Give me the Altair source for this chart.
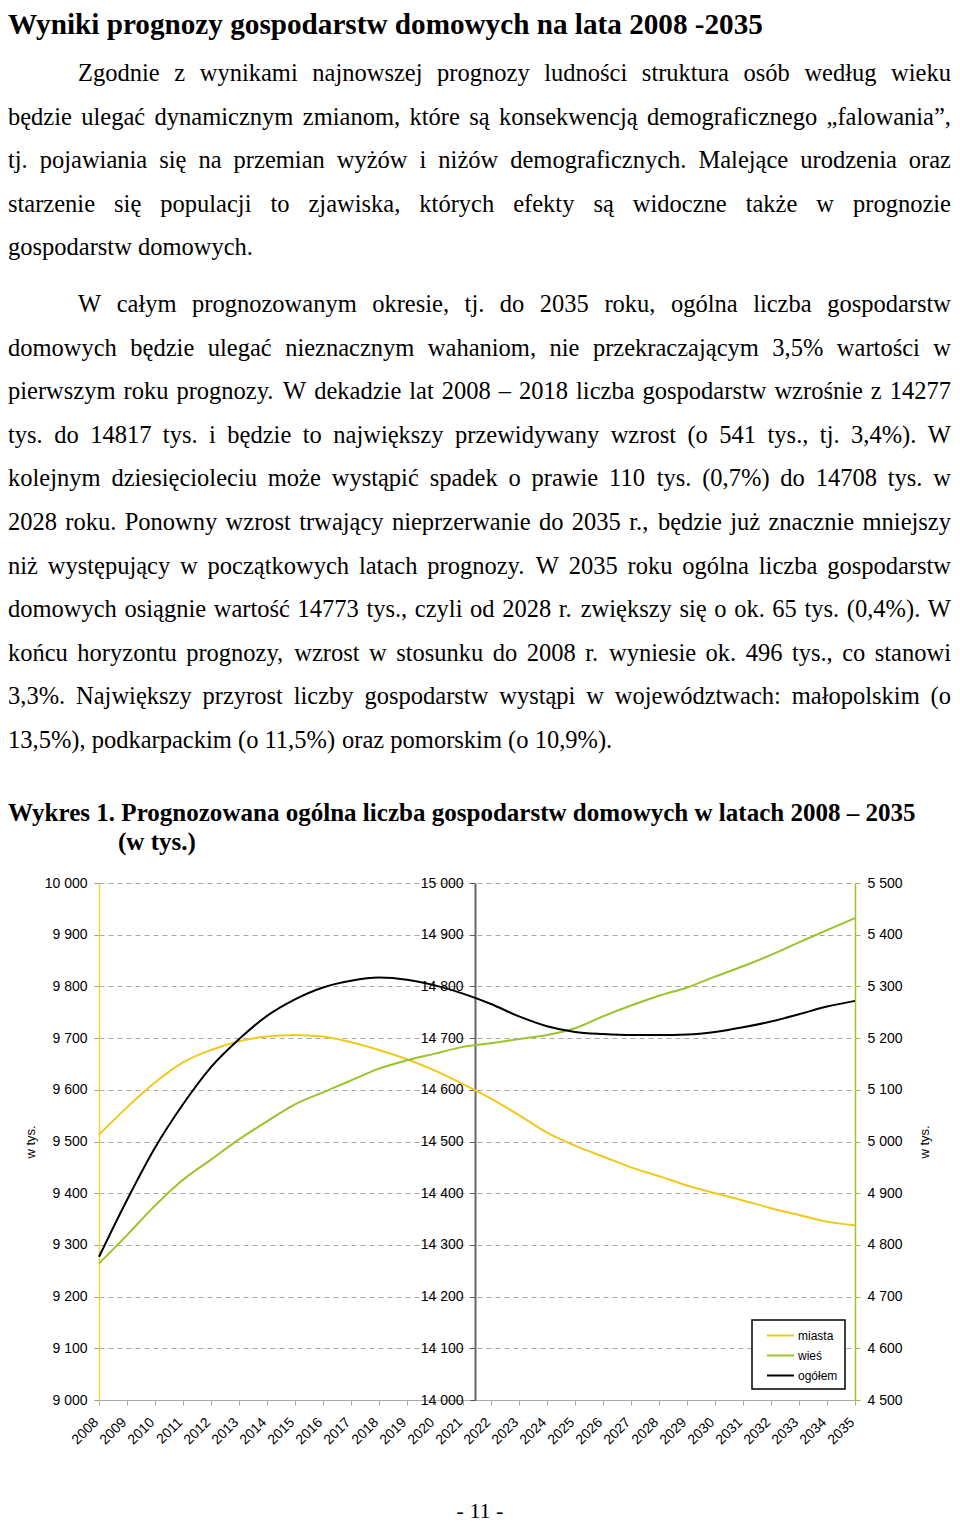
import altair as alt
import pandas as pd

# ---------------- data ----------------
years = list(range(2008, 2036))
miasta = [9513, 9566, 9614, 9653, 9677, 9694, 9703, 9706, 9703, 9692, 9677, 9659, 9637, 9611,
          9583, 9551, 9517, 9492, 9471, 9450, 9433, 9415, 9400, 9386, 9371, 9358, 9345, 9338]
wies = [4764, 4819, 4876, 4926, 4965, 5004, 5039, 5072, 5095, 5118, 5141, 5157, 5170, 5183,
        5190, 5198, 5206, 5219, 5242, 5263, 5282, 5298, 5319, 5339, 5361, 5385, 5409, 5432]
ogolem = [14277, 14387, 14488, 14572, 14644, 14698, 14743, 14775, 14798, 14811, 14817, 14813, 14802, 14786,
          14766, 14742, 14723, 14712, 14708, 14706, 14706, 14707, 14712, 14721, 14732, 14746, 14761, 14772]

series_names = ["miasta", "wieś", "ogółem"]
series_colors = ["#f2c81c", "#9cc22c", "#000000"]

left_ticks = list(range(9000, 10001, 100))
mid_ticks = list(range(14000, 15001, 100))
right_ticks = list(range(4500, 5501, 100))

heading = "Wyniki prognozy gospodarstw domowych na lata 2008 -2035"
paragraph1 = [
    "Zgodnie z wynikami najnowszej prognozy ludności struktura osób według wieku",
    "będzie ulegać dynamicznym zmianom, które są konsekwencją demograficznego „falowania”,",
    "tj. pojawiania się na przemian wyżów i niżów demograficznych. Malejące urodzenia oraz",
    "starzenie się populacji to zjawiska, których efekty są widoczne także w prognozie",
    "gospodarstw domowych.",
]
paragraph2 = [
    "W całym prognozowanym okresie, tj. do 2035 roku, ogólna liczba gospodarstw",
    "domowych będzie ulegać nieznacznym wahaniom, nie przekraczającym 3,5% wartości w",
    "pierwszym roku prognozy. W dekadzie lat 2008 – 2018 liczba gospodarstw wzrośnie z 14277",
    "tys. do 14817 tys. i będzie to największy przewidywany wzrost (o 541 tys., tj. 3,4%). W",
    "kolejnym dziesięcioleciu może wystąpić spadek o prawie 110 tys. (0,7%) do 14708 tys. w",
    "2028 roku. Ponowny wzrost trwający nieprzerwanie do 2035 r., będzie już znacznie mniejszy",
    "niż występujący w początkowych latach prognozy. W 2035 roku ogólna liczba gospodarstw",
    "domowych osiągnie wartość 14773 tys., czyli od 2028 r. zwiększy się o ok. 65 tys. (0,4%). W",
    "końcu horyzontu prognozy, wzrost w stosunku do 2008 r. wyniesie ok. 496 tys., co stanowi",
    "3,3%. Największy przyrost liczby gospodarstw wystąpi w województwach: małopolskim (o",
    "13,5%), podkarpackim (o 11,5%) oraz pomorskim (o 10,9%).",
]
chart_title_1 = "Wykres 1. Prognozowana ogólna liczba gospodarstw domowych w latach 2008 – 2035"
chart_title_2 = "(w tys.)"
page_number = "- 11 -"
unit_label = "w tys."

# ---------------- font metrics (Times / Liberation Serif) ----------------
REG = {}
for w, chars in [(250, " ,."), (278, "ijlt:;ł"), (333, "fr()-I"), (389, "sśJ"),
                 (444, "aceząćęźż„”"), (500, "bdghknopquvxyńó0123456789–"),
                 (556, "FPS"), (611, "ETZLŁ"), (667, "BCR"), (722, "ADGHKNOUVXYw"),
                 (778, "m"), (833, "%"), (889, "M"), (944, "W")]:
    for c in chars:
        REG[c] = w
BOLD = {}
for w, chars in [(250, " ,."), (278, "il:ł"), (333, "ftj()-I"), (389, "s"), (444, "cerz"),
                 (500, "agovxy0123456789–ó"), (556, "bdhknpqu"), (611, "P"), (722, "w"),
                 (833, "m"), (1000, "W")]:
    for c in chars:
        BOLD[c] = w


def units(s, table):
    return sum(table.get(c, 500) for c in s) / 1000.0


X0, Y0 = 99, 883          # page position of the plot origin
PLOT_W, PLOT_H = 756, 517
BODY_LEFT, BODY_RIGHT, INDENT = 8, 951, 78
LINE_STEP = 43.6

lines = []
for pi, (para, base) in enumerate([(paragraph1, 81), (paragraph2, 312)]):
    for i, t in enumerate(para):
        left = INDENT if i == 0 else BODY_LEFT
        lines.append((t, left, i < len(para) - 1, base + i * LINE_STEP))

fs_body = 24.5
for t, left, just, _ in lines:
    if just:
        fs_body = min(fs_body, (BODY_RIGHT - left) / units(t, REG))

rows = []
for t, left, just, yb in lines:
    words = t.split(" ")
    ws = [units(w, REG) * fs_body for w in words]
    if just and len(words) > 1:
        gap = (BODY_RIGHT - left - sum(ws)) / (len(words) - 1)
    else:
        gap = 0.25 * fs_body
    x = left
    for w, wd in zip(words, ws):
        rows.append({"w": w, "x": x - X0, "y": yb - Y0})
        x += wd + gap
words_df = pd.DataFrame(rows)

fs_title = 757 / units(heading, BOLD)
fs_ctitle = 910 / units(chart_title_1, BOLD)
head_df = pd.DataFrame([{"t": heading, "x": 8 - X0, "y": 34 - Y0}])
ctitle_df = pd.DataFrame([{"t": chart_title_1, "x": 8 - X0, "y": 821 - Y0},
                          {"t": chart_title_2, "x": 118 - X0, "y": 850 - Y0}])
foot_df = pd.DataFrame([{"t": page_number, "x": 480 - X0, "y": 1518 - Y0}])

# ---------------- chart ----------------
df = pd.DataFrame({
    "rok": years * 3,
    "seria": ["miasta"] * len(years) + ["wieś"] * len(years) + ["ogółem"] * len(years),
    "wartosc": miasta + wies + ogolem,
})

label_expr = "replace(format(datum.value, ','), /,/g, ' ')"
sans = "Liberation Sans"

x_enc = alt.X("rok:Q", scale=alt.Scale(domain=[2008, 2035], nice=False, zero=False),
              axis=alt.Axis(values=years, format="d", labelAngle=-45, title=None, grid=False,
                            domainColor="#aaaaaa", tickColor="#aaaaaa", tickSize=5,
                            labelFont=sans, labelFontSize=14, labelColor="black",
                            labelPadding=10, labelOffset=-8, labelOverlap=False, labelFlush=False))

color_enc = alt.Color("seria:N",
                      scale=alt.Scale(domain=series_names, range=series_colors),
                      legend=alt.Legend(title=None, orient="none", legendX=653, legendY=437,
                                        strokeColor="black", fillColor="white", padding=7,
                                        labelFont=sans, labelFontSize=12, labelColor="black",
                                        symbolType="M-1.8,0H1.8", symbolSize=225,
                                        symbolStrokeWidth=2, symbolOffset=13, labelOffset=9,
                                        rowPadding=5))

axis_left = alt.Axis(orient="left", values=left_ticks, labelExpr=label_expr, grid=True,
                     gridDash=[5, 4], gridColor="#a8a8a8", gridWidth=1,
                     domainColor="#e6d84c", domainWidth=1.5, tickColor="#999999", tickSize=5,
                     labelPadding=7, labelFont=sans, labelFontSize=14, labelColor="black",
                     title=unit_label, titleFont=sans, titleFontSize=13, titleFontWeight="normal",
                     titleColor="black", titlePadding=7)
axis_mid = alt.Axis(orient="left", offset=-376, values=mid_ticks, labelExpr=label_expr, grid=False,
                    domainColor="#666666", domainWidth=2, tickColor="#555555", tickSize=5,
                    labelPadding=7, labelFont=sans, labelFontSize=14, labelColor="black", title=None)
axis_right = alt.Axis(orient="right", values=right_ticks, labelExpr=label_expr, grid=False,
                      domainColor="#9cc22c", domainWidth=1.5, tickColor="#9cc22c", tickSize=5,
                      labelPadding=7, labelFont=sans, labelFontSize=14, labelColor="black",
                      title=unit_label, titleFont=sans, titleFontSize=13, titleFontWeight="normal",
                      titleColor="black", titlePadding=16, titleAngle=-90, titleBaseline="top")


def line_layer(name, domain, axis):
    return alt.Chart(df).transform_filter(alt.datum.seria == name).mark_line(
        strokeWidth=2, interpolate="monotone").encode(
        x=x_enc,
        y=alt.Y("wartosc:Q", scale=alt.Scale(domain=domain, nice=False, zero=False), axis=axis),
        color=color_enc)


l_m = line_layer("miasta", [9000, 10000], axis_left)
l_w = line_layer("wieś", [4500, 5500], axis_right)
l_o = line_layer("ogółem", [14000, 15000], axis_mid)


def text_layer(data, field, **kw):
    return alt.Chart(data).mark_text(align=kw.pop("align", "left"), baseline="alphabetic",
                                     color="black", **kw).encode(
        x=alt.X("x:Q", scale=None, axis=None),
        y=alt.Y("y:Q", scale=None, axis=None),
        text=f"{field}:N")


body = text_layer(words_df, "w", font="Liberation Serif", fontSize=fs_body)
head = text_layer(head_df, "t", font="Liberation Serif", fontSize=fs_title, fontWeight="bold")
ctitle = text_layer(ctitle_df, "t", font="Liberation Serif", fontSize=fs_ctitle, fontWeight="bold")
foot = text_layer(foot_df, "t", font="Liberation Serif", fontSize=22, align="center")

chart = alt.layer(l_m, l_w, l_o, body, head, ctitle, foot).resolve_scale(
    y="independent"
).properties(
    width=PLOT_W, height=PLOT_H,
    autosize=alt.AutoSizeParams(type="none"),
    padding={"left": 91, "top": 875, "right": 97, "bottom": 124},
    background="white",
).configure_view(stroke=None).configure_legend(strokeWidth=1.5)

chart.save("out.html", embed_options={"renderer": "svg", "actions": False})
